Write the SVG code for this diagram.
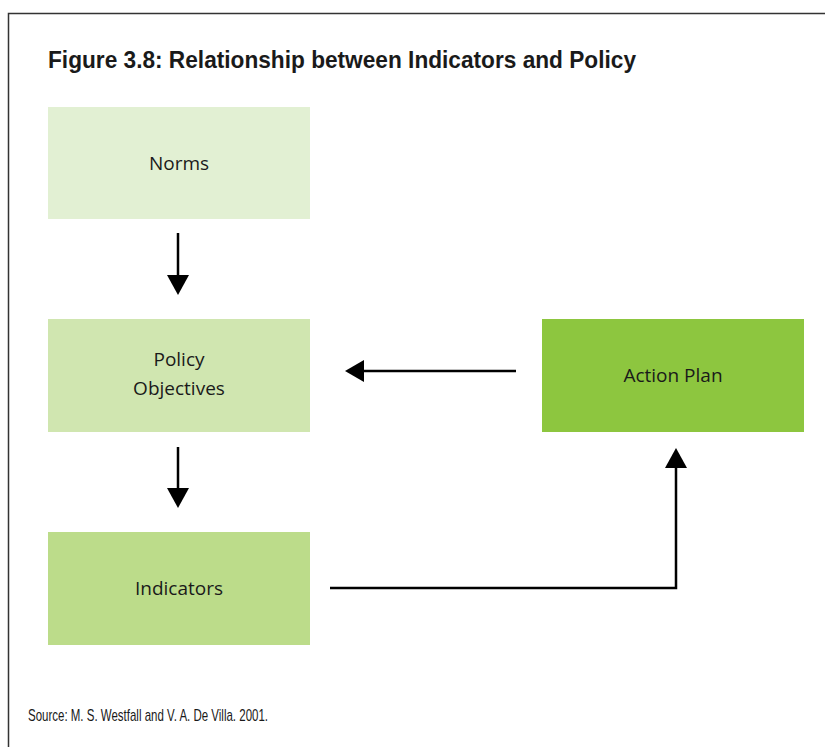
<svg xmlns="http://www.w3.org/2000/svg" width="825" height="747" viewBox="0 0 825 747">
<style>
.lbl{font-family:"Open Sans","Liberation Sans",sans-serif;font-size:19px;fill:#1a1a1a;text-anchor:middle}
.con{stroke:#000;stroke-width:2.5;fill:none}
.head{fill:#000}
</style>
<rect x="0" y="0" width="825" height="747" fill="#fff"/>
<path d="M8.5 747 V13.5 H825" fill="none" stroke="#333" stroke-width="1.5"/>
<text x="48" y="68" font-family="'Liberation Sans Narrow','Liberation Sans',sans-serif" font-weight="bold" font-size="24" fill="#1a1a1a" textLength="588" lengthAdjust="spacingAndGlyphs">Figure 3.8: Relationship between Indicators and Policy</text>
<g id="norms"><rect x="48" y="107" width="262" height="112" fill="#e2f0d3"/><text class="lbl" x="179" y="170">Norms</text></g>
<g id="policy"><rect x="48" y="319" width="262" height="113" fill="#d0e6b0"/><text class="lbl" x="179" y="366">Policy</text><text class="lbl" x="179" y="395">Objectives</text></g>
<g id="indicators"><rect x="48" y="532" width="262" height="113" fill="#bcdc8a"/><text class="lbl" x="179" y="595">Indicators</text></g>
<g id="action"><rect x="542" y="319" width="262" height="113" fill="#8dc63f"/><text class="lbl" x="673" y="382">Action Plan</text></g>
<g id="connectors">
<line class="con" x1="178" y1="233" x2="178" y2="278"/>
<polygon class="head" points="167,275 189,275 178,295"/>
<line class="con" x1="178" y1="447" x2="178" y2="492"/>
<polygon class="head" points="167,488 189,488 178,508"/>
<line class="con" x1="516" y1="371" x2="360" y2="371"/>
<polygon class="head" points="345,371 364,360 364,382"/>
<path class="con" d="M330 588 H676 V465"/>
<polygon class="head" points="676,448 665,468 687,468"/>
</g>
<text x="28" y="721" font-family="'Liberation Sans Narrow','Liberation Sans',sans-serif" font-size="17" fill="#1a1a1a" textLength="240" lengthAdjust="spacingAndGlyphs">Source: M. S. Westfall and V. A. De Villa. 2001.</text>
</svg>
